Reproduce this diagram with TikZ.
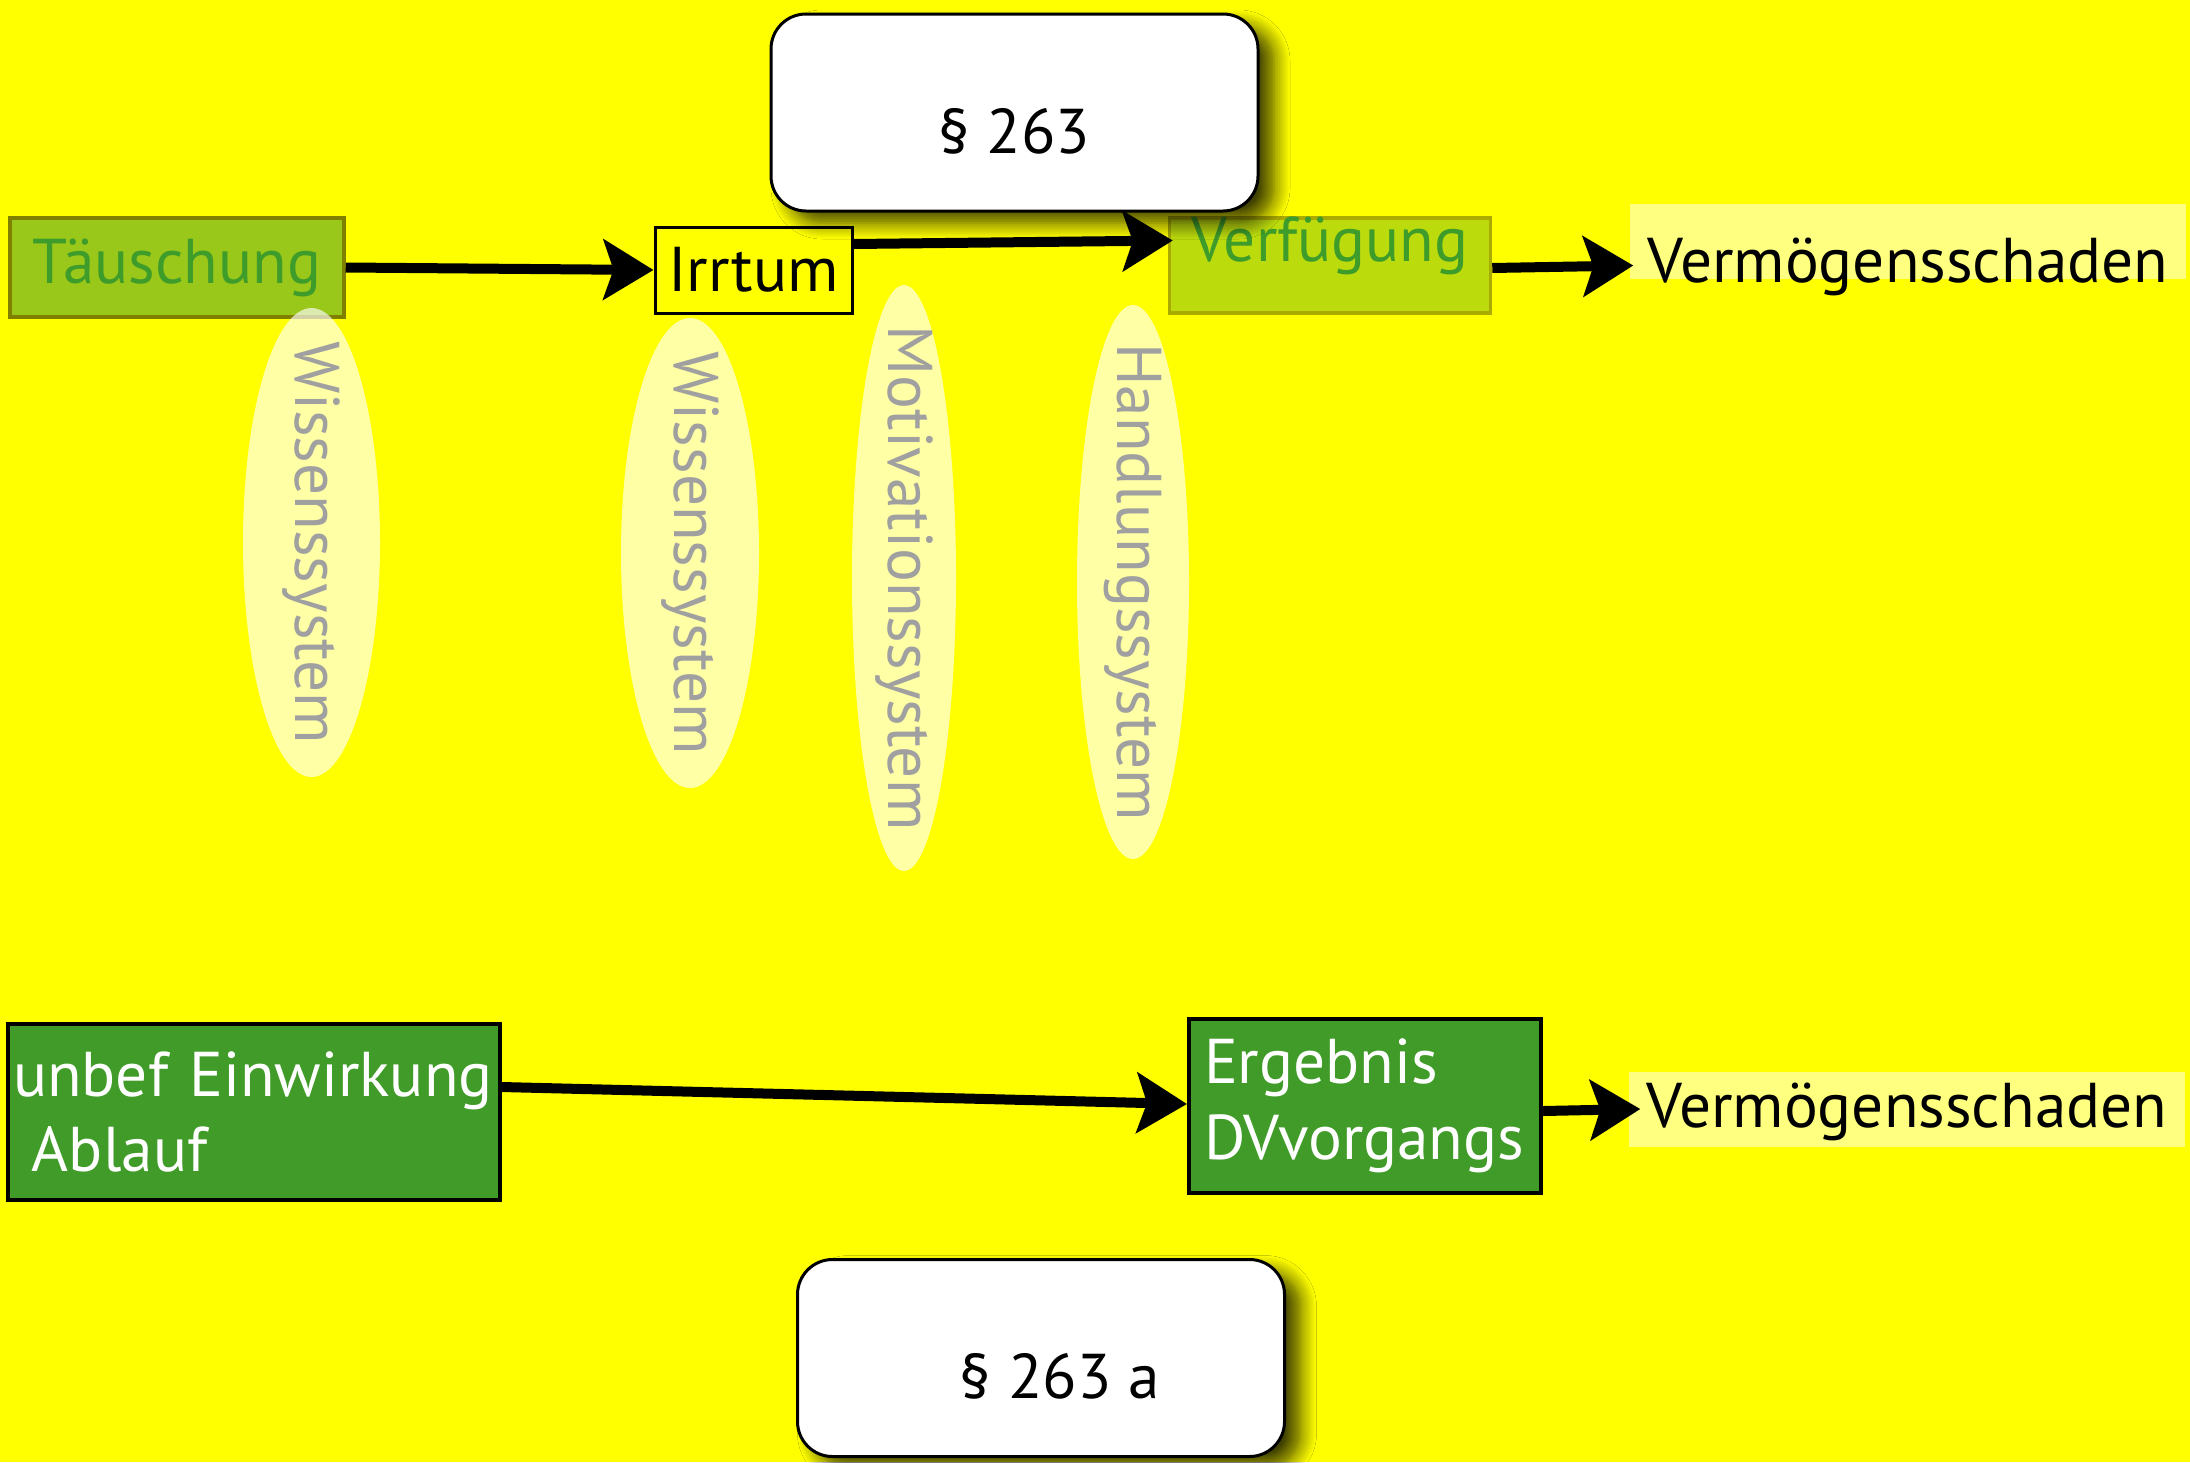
\documentclass[tikz,border=0pt]{standalone}
\usepackage{fontspec}
\setmainfont{PT Sans}
\usetikzlibrary{arrows.meta,shadows.blur}
\definecolor{bgyellow}{RGB}{255,255,0}
\definecolor{paleyellow}{RGB}{255,255,128}
\definecolor{limegreen}{RGB}{153,199,26}
\definecolor{limeborder}{RGB}{128,128,0}
\definecolor{lightlime}{RGB}{188,219,13}
\definecolor{lightlimeborder}{RGB}{170,170,0}
\definecolor{leafgreen}{RGB}{64,155,40}
\definecolor{textgreen}{RGB}{62,156,42}
\definecolor{sysgray}{RGB}{160,160,160}

\begin{document}
\begin{tikzpicture}[x=0.1mm,y=-0.1mm,
        every node/.style={font=\fontsize{18}{21.6}\selectfont},
        para/.style={draw=black,line width=0.3mm,fill=white,rounded corners=3.5mm,
            minimum width=48.7mm,minimum height=19.7mm,
            blur shadow={shadow xshift=1.6mm,shadow yshift=-1.2mm,shadow blur steps=10,shadow blur radius=1.6mm,shadow opacity=75}},
        tatbox/.style={line width=0.35mm,text=textgreen,inner sep=0},
        stage/.style={draw=black,line width=0.4mm,fill=leafgreen,text=white,align=left,inner sep=0},
        damage/.style={fill=paleyellow,minimum width=55.6mm,minimum height=7.5mm},
        halo/.style={white,opacity=.65},
        systext/.style={rotate=-90,text=sysgray,inner sep=0},
        flow/.style={line width=1mm,-{Stealth[length=5mm,width=6mm,inset=1mm]}}]
    \useasboundingbox (0,0) rectangle (2190,1462);
    \fill[bgyellow] (0,0) rectangle (2190,1462);

    \node[tatbox,fill=limegreen,draw=limeborder,minimum width=33.4mm,minimum height=9.9mm] (taeu) at (177,267.5) {Täuschung};
    \node[draw=black,line width=0.3mm,minimum width=19.7mm,minimum height=8.6mm,inner sep=0] (irr) at (753.5,270) {Irrtum};
    \node[tatbox,fill=lightlime,draw=lightlimeborder,minimum width=32.1mm,minimum height=9.5mm,
        label={[text=textgreen,yshift=2mm]center:Verfügung}] (verf) at (1330,265.5) {};
    \node[damage,label={[yshift=-2.5mm]center:Vermögensschaden}] (schad1) at (1908,241.5) {};

    \node[para,label={[yshift=-1.85mm]center:§ 263}] (p263) at (1014.5,112.5) {};

    \draw[flow] (taeu.east) -- (irr.west);
    \draw[flow] ([yshift=2.6mm]irr.east) -- ([xshift=0.5mm,yshift=2.5mm]verf.west);
    \draw[flow] ([yshift=-0.25mm]verf.east) -- ([xshift=0.4mm,yshift=-2.4mm]schad1.west);

    \fill[halo] (311.5,542.5) ellipse [x radius=68.5,y radius=234.5];
    \node[systext] (wiss1) at (311.5,542.5) {Wissenssystem};
    \fill[halo] (690,553) ellipse [x radius=69,y radius=235];
    \node[systext] (wiss2) at (690,553) {Wissenssystem};
    \fill[halo] (904,578) ellipse [x radius=52,y radius=293];
    \node[systext] (motiv) at (904,578) {Motivationssystem};
    \fill[halo] (1133,582) ellipse [x radius=56,y radius=277];
    \node[systext] (handl) at (1133,582) {Handlungssystem};

    \node[stage,minimum width=49.2mm,minimum height=17.6mm,text width=48.2mm] (einw) at (254,1112) {unbef Einwirkung\\\hspace*{.3em}Ablauf};
    \node[stage,minimum width=35.2mm,minimum height=17.4mm,text width=32.2mm] (erg) at (1365,1106) {Ergebnis\\DVvorgangs};
    \node[damage,label={[yshift=-0.3mm]center:Vermögensschaden}] (schad2) at (1907,1109) {};

    \draw[flow] ([yshift=2.5mm]einw.east) -- ([yshift=0.2mm]erg.west);
    \draw[flow] ([yshift=-0.5mm]erg.east) -- ([xshift=1.2mm]schad2.west);

    \node[para,label={[xshift=1.9mm,yshift=-1.8mm]center:§ 263 a}] (p263a) at (1041,1358) {};
\end{tikzpicture}
\end{document}
